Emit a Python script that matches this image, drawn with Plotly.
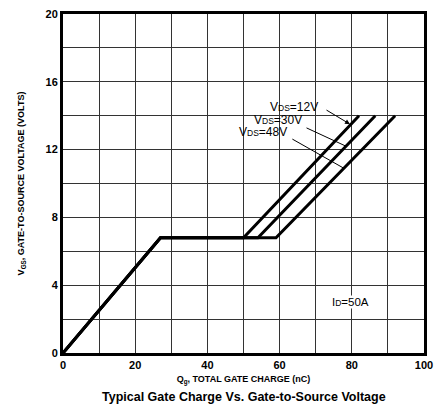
import plotly.graph_objects as go

qg_12 = [0, 27, 50, 82]
vgs_12 = [0, 6.8, 6.8, 14]
qg_30 = [0, 27, 54, 86.5]
vgs_30 = [0, 6.8, 6.8, 14]
qg_48 = [0, 27, 59, 92]
vgs_48 = [0, 6.8, 6.8, 14]

x_ticks = [0, 20, 40, 60, 80, 100]
y_ticks = [0, 4, 8, 12, 16, 20]

fig = go.Figure()
for qx, vy, nm in [(qg_12, vgs_12, "VDS=12V"), (qg_30, vgs_30, "VDS=30V"), (qg_48, vgs_48, "VDS=48V")]:
    fig.add_trace(go.Scatter(x=qx, y=vy, mode="lines", name=nm,
                             line=dict(color="black", width=3), showlegend=False))

font = "Liberation Sans, Arial, sans-serif"
fig.update_layout(
    width=441, height=411,
    margin=dict(l=63, r=14, t=8, b=58),
    paper_bgcolor="white", plot_bgcolor="white",
    font=dict(family=font, color="black", size=11),
    xaxis=dict(range=[0, 100], tickvals=x_ticks, ticktext=["<b>%d</b>" % v for v in x_ticks],
               showgrid=True, gridcolor="#333", gridwidth=1,
               showline=True, linecolor="black", linewidth=3, mirror=True,
               zeroline=False, ticks="", tickfont=dict(size=11),
               title=dict(text="<b>Q<sub>g</sub>, TOTAL GATE CHARGE (nC)</b>", font=dict(size=9), standoff=6)),
    yaxis=dict(range=[0, 20], tickvals=y_ticks, ticktext=["<b>%d</b>" % v for v in y_ticks],
               showgrid=True, gridcolor="#333", gridwidth=1,
               showline=True, linecolor="black", linewidth=3, mirror=True,
               zeroline=False, ticks="", tickfont=dict(size=11),
               title=dict(text="<b>V<sub>GS</sub>, GATE-TO-SOURCE VOLTAGE (VOLTS)</b>", font=dict(size=9), standoff=20)),
)
fig.update_xaxes(minor=dict(dtick=10, showgrid=True, gridcolor="#333", gridwidth=1))
fig.update_yaxes(minor=dict(dtick=2, showgrid=True, gridcolor="#333", gridwidth=1))

fig.add_annotation(x=0.5, y=-0.13, xref="paper", yref="paper", yanchor="middle",
                   text="<b>Typical Gate Charge Vs. Gate-to-Source Voltage</b>",
                   showarrow=False, font=dict(size=12.5))

ds = "V<span style='font-size:8.5px'>DS</span>"
for txt, tx, ty in [(ds + "=12V", 63.9, 14.5), (ds + "=30V", 59.6, 13.77), (ds + "=48V", 55.5, 13.04)]:
    fig.add_annotation(x=tx, y=ty, text=txt, showarrow=False, xanchor="center", yanchor="middle",
                       font=dict(size=12), borderpad=0)

fig.add_annotation(x=79.5, y=13.5, text="", showarrow=True, ax=-25, ay=-15,
                   arrowhead=2, arrowsize=1, arrowwidth=1, arrowcolor="black")
fig.add_annotation(x=78.4, y=12.2, text="", showarrow=True, ax=-41, ay=-19,
                   arrowhead=0, arrowwidth=1, arrowcolor="black")
fig.add_annotation(x=77.8, y=10.9, text="", showarrow=True, ax=-53, ay=-30,
                   arrowhead=0, arrowwidth=1, arrowcolor="black")

fig.add_annotation(x=79.5, y=3.0, text="I<span style='font-size:8.5px'>D</span>=50A", showarrow=False,
                   font=dict(size=11.5), bgcolor="white", borderpad=0)

fig.write_html("out.html", config={"displayModeBar": False},
               post_script="document.body.style.margin='0';document.body.style.overflow='hidden';")
